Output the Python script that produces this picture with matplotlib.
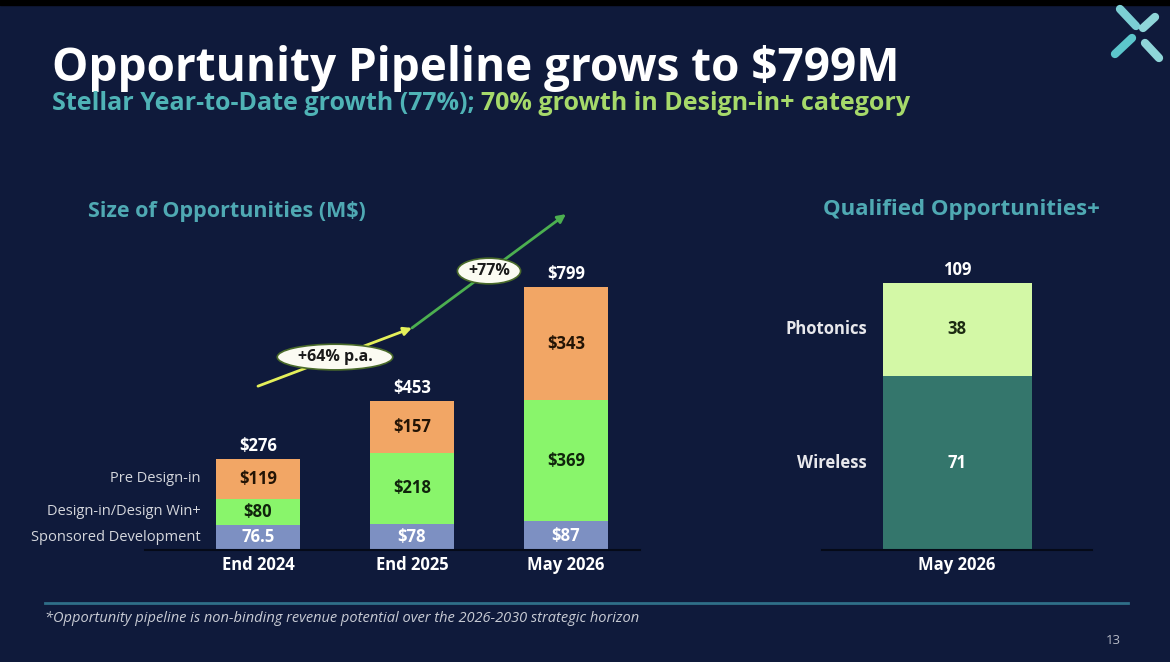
import matplotlib.pyplot as plt
from matplotlib.patches import Rectangle, Ellipse

plt.rcParams['font.family'] = ['Open Sans', 'DejaVu Sans']

BG = '#0f1a3b'
W, H = 1170, 662

# data
periods = ['End 2024', 'End 2025', 'May 2026']
sponsored = [76.5, 78, 87]
design_in = [80, 218, 369]
pre_design = [119, 157, 343]
totals = [276, 453, 799]
sponsored_lbl = ['76.5', '$78', '$87']
design_lbl = ['$80', '$218', '$369']
pre_lbl = ['$119', '$157', '$343']
growth_labels = ['+64% p.a.', '+77%']

q_period = ['May 2026']
wireless = [71]
photonics = [38]
q_total = [109]


def px(x, y):
    return x / W, 1 - y / H


fig = plt.figure(figsize=(W / 100, H / 100), dpi=100, facecolor=BG)
fig.patches.append(Rectangle((0, 1 - 5 / H), 1, 5 / H, transform=fig.transFigure,
                             color='black', zorder=0))

# titles
fig.text(*px(52, 69), 'Opportunity Pipeline grows to $799M', color='white',
         fontsize=33, fontweight='bold', va='center', ha='left')
t1 = fig.text(*px(52, 104), 'Stellar Year-to-Date growth (77%); ', color='#4fb3b6',
              fontsize=18, fontweight='bold', va='center', ha='left')
fig.canvas.draw()
bb = t1.get_window_extent()
fig.text(bb.x1 / W, 1 - 104 / H, '70% growth in Design-in+ category', color='#a6d96a',
         fontsize=18, fontweight='bold', va='center', ha='left')

fig.text(*px(88, 212), 'Size of Opportunities (M$)', color='#4fa9b3',
         fontsize=15.5, fontweight='bold', va='center', ha='left')
fig.text(*px(961, 210), 'Qualified Opportunities+', color='#4fa9b3',
         fontsize=16, fontweight='bold', va='center', ha='center')

# logo
for (x0, y0, x1, y1), c in zip([(1120, 9, 1136, 26), (1143, 28, 1155, 17),
                                (1115, 54, 1132, 38), (1145, 43, 1159, 58)],
                               ['#7ccfd4', '#8fd6d9', '#5cc6cc', '#8fd6d9']):
    fig.lines.append(plt.Line2D([x0 / W, x1 / W], [1 - y0 / H, 1 - y1 / H],
                                transform=fig.transFigure, color=c, lw=6,
                                solid_capstyle='round'))

# left stacked chart
ax = fig.add_axes([145 / W, (H - 550) / H, 495 / W, 350 / H])
ax.set_facecolor('none')
x = list(range(len(periods)))
bw = 84 / 154
c_sp, c_di, c_pre = '#7d90c2', '#89f56b', '#f2a665'
ax.bar(x, sponsored, bw, color=c_sp)
ax.bar(x, design_in, bw, bottom=sponsored, color=c_di)
bot3 = [a + b for a, b in zip(sponsored, design_in)]
ax.bar(x, pre_design, bw, bottom=bot3, color=c_pre)
ax.set_xlim(-113 / 154, 382 / 154)
ax.set_ylim(0, 350 / 0.329)

for i in x:
    ax.text(i, sponsored[i] / 2, sponsored_lbl[i], ha='center', va='center',
            color='white', fontsize=12, fontweight='bold')
    ax.text(i, sponsored[i] + design_in[i] / 2, design_lbl[i], ha='center', va='center',
            color='#10240c', fontsize=12, fontweight='bold')
    ax.text(i, bot3[i] + pre_design[i] / 2, pre_lbl[i], ha='center', va='center',
            color='#231405', fontsize=12, fontweight='bold')
    ax.annotate(f'${totals[i]}', (i, totals[i]), xytext=(0, 3), textcoords='offset points',
                ha='center', va='bottom', color='white', fontsize=12, fontweight='bold')

# series labels beside the first bar
for yv, txt in [(sponsored[0] / 2, 'Sponsored Development'),
                (sponsored[0] + design_in[0] / 2, 'Design-in/Design Win+'),
                (bot3[0] + pre_design[0] / 2, 'Pre Design-in')]:
    ax.annotate(txt, (-bw / 2, yv), xytext=(-11, 0), textcoords='offset points',
                ha='right', va='center', color='#d4d6dc', fontsize=10.5)

# growth arrows
off = 222
pts = [(i, t + off) for i, t in zip(x, totals)]
for (p0, p1), col in zip([(pts[0], pts[1]), (pts[1], pts[2])], ['#e4f05a', '#4caf50']):
    ax.annotate('', xy=p1, xytext=p0,
                arrowprops=dict(arrowstyle='-|>', color=col, lw=2, mutation_scale=12,
                                shrinkA=0, shrinkB=0))
for (p0, p1), txt, w in zip([(pts[0], pts[1]), (pts[1], pts[2])], growth_labels, [0.75, 0.41]):
    mx, my = (p0[0] + p1[0]) / 2, (p0[1] + p1[1]) / 2
    ax.add_patch(Ellipse((mx, my), w, 78, facecolor='#fbfbf2', edgecolor='#4a6b2a', lw=1.2,
                         zorder=5))
    ax.text(mx, my, txt, ha='center', va='center', color='#1a1a1a', fontsize=11.5,
            fontweight='bold', zorder=6)

ax.set_xticks(x)
ax.set_xticklabels(periods, color='white', fontsize=12, fontweight='bold')
ax.tick_params(axis='x', length=0, pad=4)
ax.set_yticks([])
for s in ['top', 'right', 'left']:
    ax.spines[s].set_visible(False)
ax.spines['bottom'].set_color('#050a18')
ax.spines['bottom'].set_linewidth(1.5)

# right stacked chart
ax2 = fig.add_axes([822 / W, (H - 550) / H, 270 / W, 350 / H])
ax2.set_facecolor('none')
ax2.bar([0], wireless, 1, color='#34766c')
ax2.bar([0], photonics, 1, bottom=wireless, color='#d3f8a6')
ax2.set_xlim(-135 / 149, 135 / 149)
ax2.set_ylim(0, 350 / 2.45)
ax2.text(0, wireless[0] / 2, str(wireless[0]), ha='center', va='center', color='white',
         fontsize=12, fontweight='bold')
ax2.text(0, wireless[0] + photonics[0] / 2, str(photonics[0]), ha='center', va='center',
         color='#1c2a12', fontsize=12, fontweight='bold')
ax2.annotate(str(q_total[0]), (0, q_total[0]), xytext=(0, 3), textcoords='offset points',
             ha='center', va='bottom', color='white', fontsize=12, fontweight='bold')
for yv, txt in [(wireless[0] / 2, 'Wireless'), (wireless[0] + photonics[0] / 2, 'Photonics')]:
    ax2.annotate(txt, (-0.5, yv), xytext=(-11, 0), textcoords='offset points',
                 ha='right', va='center', color='#e8e8ec', fontsize=12, fontweight='bold')
ax2.set_xticks([0])
ax2.set_xticklabels(q_period, color='white', fontsize=12, fontweight='bold')
ax2.tick_params(axis='x', length=0, pad=4)
ax2.set_yticks([])
for s in ['top', 'right', 'left']:
    ax2.spines[s].set_visible(False)
ax2.spines['bottom'].set_color('#050a18')
ax2.spines['bottom'].set_linewidth(1.5)

# footer
fig.lines.append(plt.Line2D([45 / W, 1128 / W], [1 - 603 / H, 1 - 603 / H],
                            transform=fig.transFigure, color='#2f6f88', lw=2))
fig.text(*px(45, 618), '*Opportunity pipeline is non-binding revenue potential over the '
         '2026-2030 strategic horizon', color='#c8cbd4', fontsize=10.5, style='italic',
         va='center', ha='left')
fig.text(*px(1121, 641), '13', color='#b8bcc8', fontsize=9.5, va='center', ha='right')

fig.savefig('out.png', dpi=100, facecolor=BG)
